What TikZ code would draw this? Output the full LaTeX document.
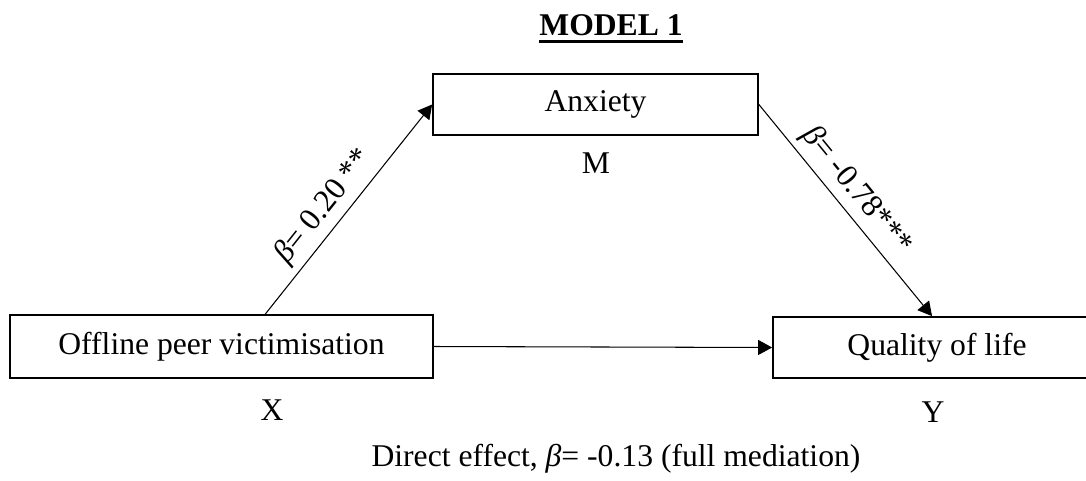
\documentclass[tikz,border=0pt]{standalone}
\usepackage{fontspec}
\setmainfont{Liberation Serif}
\usepackage{tikz}
\usetikzlibrary{arrows.meta, positioning, calc}

\begin{document}
\begin{tikzpicture}[
  var/.style={rectangle, draw, line width=1pt, text centered,
              minimum height=1.22cm, font=\fontsize{18}{21}\selectfont},
  lbl/.style={font=\fontsize{18}{21}\selectfont},
  path/.style={-{Triangle[length=0.28cm, width=0.3cm]}, line width=0.6pt}
]
\useasboundingbox (0,0) rectangle (21.72,9.6);

% title
\node[lbl, font=\fontsize{18}{21}\selectfont\bfseries, inner sep=0pt] (title) at (12.22,9.10) {MODEL 1};
\draw[line width=1.6pt] ([yshift=-3.5pt]title.base west) -- ([yshift=-3.5pt]title.base east);

% variables
\node[var, minimum width=6.5cm] (anx) at (11.91,7.51) {Anxiety};
\node[lbl] (mlab) at (11.92,6.34) {M};

\node[var, minimum width=8.46cm, minimum height=1.26cm] (off) at (4.43,2.67) {Offline peer victimisation};
\node[lbl] (xlab) at (5.44,1.40) {X};

\node[var, minimum width=6.56cm] (qol) at (18.74,2.65) {Quality of life};
\node[lbl] (ylab) at (18.66,1.36) {Y};

% paths
\draw[path] ($(off.north west)!0.603!(off.north east)$) --
      node[lbl, sloped, above, pos=0.45]{\textit{β}= 0.20 **} (anx.west);
\draw[path] (anx.east) --
      node[lbl, sloped, above, pos=0.47]{\textit{β}= -0.78***} ($(qol.north west)!0.485!(qol.north east)$);
\draw[path] (off.east) -- (qol.west);

\node[lbl] (direct) at (12.32,0.42) {Direct effect, \textit{β}= -0.13 (full mediation)};

\end{tikzpicture}
\end{document}
